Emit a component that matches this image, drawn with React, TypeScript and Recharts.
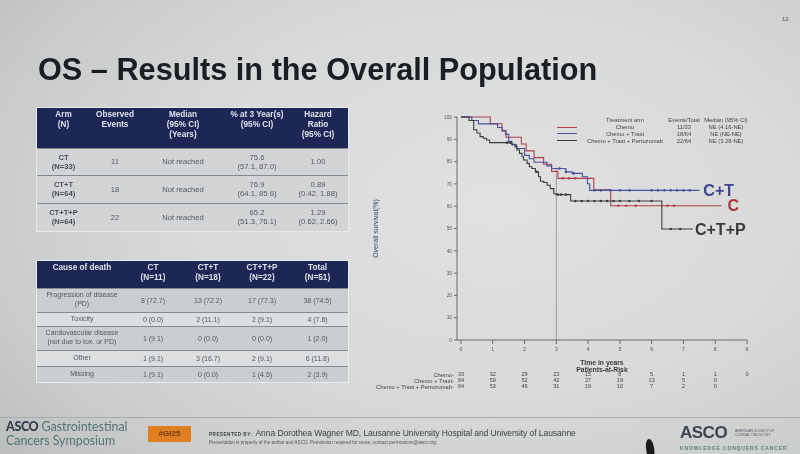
import React from "react"
import {
  ComposedChart,
  Line,
  Scatter,
  XAxis,
  YAxis,
  ReferenceLine,
  ReferenceDot
} from "recharts"

// axes
const years = [0, 1, 2, 3, 4, 5, 6, 7, 8, 9]
const survTicks = [0, 10, 20, 30, 40, 50, 60, 70, 80, 90, 100]

// Kaplan-Meier steps (time in years, survival in %)
const chemoTime = [0, 0.92, 1.29, 1.42, 1.9, 2.05, 2.3, 2.6, 2.85, 3.05, 4.18, 4.71, 8.2]
const chemoSurv = [100, 97, 93.9, 90.9, 87.9, 84.8, 81.8, 78.8, 75.6, 72.5, 67.4, 60.2, 60.2]

const trastTime = [0, 0.34, 0.55, 1.15, 1.3, 1.4, 1.5, 1.6, 1.75, 2.0, 2.15, 2.3, 2.7, 2.85, 3.3, 3.5, 3.82, 3.98, 4.05, 7.5]
const trastSurv = [100, 98.4, 96.9, 95.3, 93.8, 92.2, 89.1, 87.5, 85.9, 82.8, 81.3, 79.7, 78.1, 76.9, 75.4, 74.7, 73.2, 70.1, 67.1, 67.1]

const pertuTime = [0, 0.25, 0.4, 0.5, 0.6, 0.7, 0.8, 0.9, 1.6, 1.7, 1.76, 1.84, 1.92, 1.97, 2.08, 2.15, 2.23, 2.34, 2.44, 2.5, 2.6, 2.71, 2.81, 2.92, 2.99, 3.45, 6.32, 7.3]
const pertuSurv = [100, 98.4, 94.3, 92.8, 91.2, 90.5, 89.7, 88.5, 87.8, 86.7, 85.2, 83.7, 82.2, 80.7, 79.2, 77.7, 76.9, 75.4, 73.2, 71.2, 70.6, 69.4, 67.9, 65.6, 65.2, 62.3, 49.8, 49.8]

// censored observations
const chemoCensT = [3.2, 3.4, 3.6, 4.95, 5.2, 5.5, 6.5, 6.7]
const chemoCensS = [72.5, 72.5, 72.5, 60.2, 60.2, 60.2, 60.2, 60.2]
const trastCensT = [3.1, 3.3, 3.55, 4.2, 4.4, 4.7, 5.0, 5.3, 6.0, 6.2, 6.4, 6.6, 6.8, 7.0, 7.2]
const trastCensS = [76.9, 75.4, 74.7, 67.1, 67.1, 67.1, 67.1, 67.1, 67.1, 67.1, 67.1, 67.1, 67.1, 67.1, 67.1]
const pertuCensT = [1.45, 1.55, 2.38, 3.05, 3.15, 3.3, 3.6, 3.8, 4.0, 4.2, 4.4, 4.6, 4.8, 5.0, 5.3, 5.6, 6.0, 6.6, 6.9]
const pertuCensS = [88.5, 88.5, 75.4, 65.2, 65.2, 65.2, 62.3, 62.3, 62.3, 62.3, 62.3, 62.3, 62.3, 62.3, 62.3, 62.3, 62.3, 49.8, 49.8]

// patients at risk
const riskChemo = [33, 32, 29, 23, 15, 8, 5, 1, 1, 0]
const riskTrast = [64, 59, 52, 42, 27, 19, 13, 5, 0]
const riskPertu = [64, 53, 46, 31, 19, 10, 7, 2, 0]

const refYear = 3
const refSurv = 77

// legend rows
const armNames = ["Chemo", "Chemo + Trast", "Chemo + Trast + Pertuzumab"]
const armEvents = ["11/33", "18/64", "22/64"]
const armMedians = ["NE (4.16-NE)", "NE (NE-NE)", "NE (3.28-NE)"]

// table 1
const t1Head = [["Arm", "(N)"], ["Observed", "Events"], ["Median", "(95% CI)", "(Years)"], ["% at 3 Year(s)", "(95% CI)"], ["Hazard", "Ratio", "(95% CI)"]]
const t1Arms = [["CT", "(N=33)"], ["CT+T", "(N=64)"], ["CT+T+P", "(N=64)"]]
const t1Events = ["11", "18", "22"]
const t1Median = ["Not reached", "Not reached", "Not reached"]
const t1Pct = [["75.6", "(57.1, 87.0)"], ["76.9", "(64.1, 85.6)"], ["65.2", "(51.3, 76.1)"]]
const t1Hr = [["1.00"], ["0.89", "(0.42, 1.88)"], ["1.29", "(0.62, 2.66)"]]

// table 2
const t2Head = [["Cause of death"], ["CT", "(N=11)"], ["CT+T", "(N=18)"], ["CT+T+P", "(N=22)"], ["Total", "(N=51)"]]
const t2Causes = [["Progression of disease", "(PD)"], ["Toxicity"], ["Cardiovascular disease", "(not due to tox. or PD)"], ["Other"], ["Missing"]]
const t2Ct = ["8 (72.7)", "0 (0.0)", "1 (9.1)", "1 (9.1)", "1 (9.1)"]
const t2Ctt = ["13 (72.2)", "2 (11.1)", "0 (0.0)", "3 (16.7)", "0 (0.0)"]
const t2Ctp = ["17 (77.3)", "2 (9.1)", "0 (0.0)", "2 (9.1)", "1 (4.5)"]
const t2Total = ["38 (74.5)", "4 (7.8)", "1 (2.0)", "6 (11.8)", "2 (3.9)"]

const RED = "#b0404b"
const BLUE = "#4a4f9e"
const DARK = "#3d3d3f"
const NAVY = "#1c2756"
const FONT = "'Liberation Sans', Arial, sans-serif"

const toPoints = (t: number[], s: number[]) => t.map((x, i) => ({ t: x, s: s[i] }))

const censorShape = (color: string) => (p: any) => (
  <circle cx={p.cx} cy={p.cy} r={1.3} fill={color} />
)

const lines = (arr: string[]) =>
  arr.map((l, i) => (
    <div key={i}>{l}</div>
  ))

const timeTitles = (props: any) => {
  const vb = props.viewBox
  const cx = vb.x + vb.width / 2
  return (
    <g>
      <text x={cx} y={vb.y + 24.5} textAnchor="middle" fontSize={6.8} fontWeight="bold" fill="#3a3a3a">
        Time in years
      </text>
      <text x={cx} y={vb.y + 31.5} textAnchor="middle" fontSize={6.8} fontWeight="bold" fill="#3a3a3a">
        Patients-at-Risk
      </text>
    </g>
  )
}

function KMChart() {
  const riskAxis = (id: string, risk: number[], name: string) => (
    <XAxis
      xAxisId={id}
      type="number"
      dataKey="t"
      domain={[0, 9]}
      allowDataOverflow
      ticks={years}
      padding={{ left: 4, right: 0 }}
      axisLine={false}
      tickLine={false}
      tickSize={0}
      tickMargin={0}
      height={6}
      interval={0}
      tick={{ fontSize: 5.6, fill: "#444" }}
      tickFormatter={(v: number) => (risk[v] === undefined ? "" : String(risk[v]))}
      label={{ value: name + "-", position: "left", offset: 3, fontSize: 5.8, fill: "#444" }}
    />
  )

  return (
    <ComposedChart width={420} height={287} margin={{ top: 12, right: 38, bottom: 2, left: 0 }}>
      <XAxis
        xAxisId="main"
        type="number"
        dataKey="t"
        domain={[0, 9]}
        allowDataOverflow
        ticks={years}
        padding={{ left: 4, right: 0 }}
        height={32}
        tickSize={4}
        tickMargin={3}
        interval={0}
        stroke="#6a6a6a"
        tick={{ fontSize: 5.2, fill: "#555" }}
        label={timeTitles}
      />
      {riskAxis("r1", riskChemo, armNames[0])}
      {riskAxis("r2", riskTrast, armNames[1])}
      {riskAxis("r3", riskPertu, armNames[2])}
      <YAxis
        type="number"
        domain={[0, 100]}
        ticks={survTicks}
        width={92}
        tickSize={3}
        tickMargin={2}
        interval={0}
        stroke="#6a6a6a"
        tick={{ fontSize: 4.8, fill: "#555" }}
        label={{
          value: "Overall survival(%)",
          angle: -90,
          position: "insideLeft",
          offset: 11,
          style: { textAnchor: "middle" },
          fontSize: 7,
          fill: "#34486a"
        }}
      />
      <ReferenceLine
        xAxisId="main"
        segment={[{ x: refYear, y: 0 }, { x: refYear, y: refSurv }]}
        stroke="#8a8a8a"
        strokeWidth={0.8}
      />
      <Line xAxisId="main" data={toPoints(chemoTime, chemoSurv)} dataKey="s" type="stepAfter" stroke={RED} strokeWidth={1.1} dot={false} activeDot={false} isAnimationActive={false} />
      <Line xAxisId="main" data={toPoints(trastTime, trastSurv)} dataKey="s" type="stepAfter" stroke={BLUE} strokeWidth={1.1} dot={false} activeDot={false} isAnimationActive={false} />
      <Line xAxisId="main" data={toPoints(pertuTime, pertuSurv)} dataKey="s" type="stepAfter" stroke={DARK} strokeWidth={1.1} dot={false} activeDot={false} isAnimationActive={false} />
      <Scatter xAxisId="main" data={toPoints(chemoCensT, chemoCensS)} dataKey="s" shape={censorShape(RED)} isAnimationActive={false} />
      <Scatter xAxisId="main" data={toPoints(trastCensT, trastCensS)} dataKey="s" shape={censorShape(BLUE)} isAnimationActive={false} />
      <Scatter xAxisId="main" data={toPoints(pertuCensT, pertuCensS)} dataKey="s" shape={censorShape(DARK)} isAnimationActive={false} />
      <ReferenceDot xAxisId="main" x={trastTime[trastTime.length - 1]} y={trastSurv[trastSurv.length - 1]} r={0} fill="none" stroke="none"
        label={{ value: "C+T", position: "right", offset: 4, fontSize: 16, fontWeight: "bold", fill: "#3f4694" }} />
      <ReferenceDot xAxisId="main" x={chemoTime[chemoTime.length - 1]} y={chemoSurv[chemoSurv.length - 1]} r={0} fill="none" stroke="none"
        label={{ value: "C", position: "right", offset: 6, fontSize: 16, fontWeight: "bold", fill: "#b0353d" }} />
      <ReferenceDot xAxisId="main" x={pertuTime[pertuTime.length - 1]} y={pertuSurv[pertuSurv.length - 1]} r={0} fill="none" stroke="none"
        label={{ value: "C+T+P", position: "right", offset: 2, fontSize: 16, fontWeight: "bold", fill: "#39393b" }} />
    </ComposedChart>
  )
}

function ChartLegend() {
  const colors = [RED, BLUE, DARK]
  const cell = (x: number, y: number, text: string) => (
    <div style={{ position: "absolute", left: x, top: y, transform: "translateX(-50%)", whiteSpace: "nowrap" }}>{text}</div>
  )
  return (
    <div style={{ position: "absolute", left: 0, top: 0, fontSize: 5.8, color: "#444", lineHeight: "6px" }}>
      {cell(625, 117, "Treatment arm")}
      {cell(684, 117, "Events/Total")}
      {cell(726, 117, "Median (95% CI)")}
      {armNames.map((n, i) => (
        <React.Fragment key={n}>
          <div style={{ position: "absolute", left: 557, top: 124 + i * 6.8 + 2.5, width: 20, height: 0.8, background: colors[i] }} />
          {cell(625, 124 + i * 6.8, n)}
          {cell(684, 124 + i * 6.8, armEvents[i])}
          {cell(726, 124 + i * 6.8, armMedians[i])}
        </React.Fragment>
      ))}
    </div>
  )
}

const thStyle: React.CSSProperties = {
  background: NAVY,
  color: "#dfe3ec",
  fontWeight: "bold",
  fontSize: 8.2,
  lineHeight: "10.2px",
  textAlign: "center",
  padding: 0,
  whiteSpace: "nowrap",
  verticalAlign: "top",
  paddingTop: 2
}

const tdStyle = (bg: string): React.CSSProperties => ({
  background: bg,
  color: "#54585e",
  fontSize: 7.6,
  lineHeight: "9px",
  textAlign: "center",
  padding: 0,
  whiteSpace: "nowrap",
  borderTop: "1px solid #858a90"
})

function SurvivalTable() {
  const widths = [53, 50, 86, 62, 60]
  const rowH = [27, 28, 28]
  return (
    <table style={{ position: "absolute", left: 37, top: 108, width: 311, borderCollapse: "collapse", tableLayout: "fixed", fontFamily: FONT, outline: "1.5px solid #e9ebeb" }}>
      <colgroup>
        {widths.map((w, i) => <col key={i} style={{ width: w }} />)}
      </colgroup>
      <thead>
        <tr style={{ height: 40 }}>
          {t1Head.map((h, i) => <th key={i} style={thStyle}>{lines(h)}</th>)}
        </tr>
      </thead>
      <tbody>
        {t1Arms.map((arm, r) => (
          <tr key={r} style={{ height: rowH[r] }}>
            <td style={{ ...tdStyle("#d2d4d6"), fontWeight: "bold", color: "#4a4e55" }}>{lines(arm)}</td>
            <td style={tdStyle("#d2d4d6")}>{t1Events[r]}</td>
            <td style={tdStyle("#d2d4d6")}>{t1Median[r]}</td>
            <td style={tdStyle("#d2d4d6")}>{lines(t1Pct[r])}</td>
            <td style={tdStyle("#d2d4d6")}>{lines(t1Hr[r])}</td>
          </tr>
        ))}
      </tbody>
    </table>
  )
}

function DeathTable() {
  const widths = [90, 52, 58, 50, 61]
  const rowH = [24, 14, 24, 16, 16]
  const bgs = ["#cbced0", "#dcdedf", "#cbced0", "#dcdedf", "#cbced0"]
  return (
    <table style={{ position: "absolute", left: 37, top: 261, width: 311, borderCollapse: "collapse", tableLayout: "fixed", fontFamily: FONT, outline: "1.5px solid #e9ebeb" }}>
      <colgroup>
        {widths.map((w, i) => <col key={i} style={{ width: w }} />)}
      </colgroup>
      <thead>
        <tr style={{ height: 27 }}>
          {t2Head.map((h, i) => <th key={i} style={thStyle}>{lines(h)}</th>)}
        </tr>
      </thead>
      <tbody>
        {t2Causes.map((c, r) => (
          <tr key={r} style={{ height: rowH[r] }}>
            <td style={{ ...tdStyle(bgs[r]), fontSize: 7, lineHeight: "8.6px" }}>{lines(c)}</td>
            <td style={{ ...tdStyle(bgs[r]), fontSize: 7 }}>{t2Ct[r]}</td>
            <td style={{ ...tdStyle(bgs[r]), fontSize: 7 }}>{t2Ctt[r]}</td>
            <td style={{ ...tdStyle(bgs[r]), fontSize: 7 }}>{t2Ctp[r]}</td>
            <td style={{ ...tdStyle(bgs[r]), fontSize: 7 }}>{t2Total[r]}</td>
          </tr>
        ))}
      </tbody>
    </table>
  )
}

function Footer() {
  return (
    <>
      <div style={{ position: "absolute", left: 0, top: 417, width: 800, height: 1, background: "#a9acac" }} />
      <div style={{ position: "absolute", left: 6, top: 420, fontFamily: "Lato, sans-serif", fontSize: 12.4, lineHeight: "13.5px", color: "#557276", whiteSpace: "nowrap" }}>
        <div><span style={{ fontWeight: 900, color: "#2e3b46", letterSpacing: -0.3 }}>ASCO</span> Gastrointestinal</div>
        <div>Cancers Symposium</div>
      </div>
      <div style={{ position: "absolute", left: 148, top: 426, width: 43, height: 16, background: "#df7f22", color: "#6b3a0c", fontFamily: FONT, fontWeight: "bold", fontSize: 8, lineHeight: "16px", textAlign: "center" }}>#GI25</div>
      <div style={{ position: "absolute", left: 209, top: 428, fontFamily: FONT, fontSize: 8.6, lineHeight: "10px", color: "#3a3f45", whiteSpace: "nowrap" }}>
        <span style={{ fontSize: 4.6, fontWeight: "bold", letterSpacing: 0.5, marginRight: 3 }}>PRESENTED BY:</span>
        <span style={{ letterSpacing: -0.1 }}>Anna Dorothea Wagner MD, Lausanne University Hospital and University of Lausanne</span>
      </div>
      <div style={{ position: "absolute", left: 209, top: 440, fontFamily: FONT, fontSize: 4.6, lineHeight: "5px", color: "#555", whiteSpace: "nowrap" }}>
        Presentation is property of the author and ASCO. Permission required for reuse; contact permissions@asco.org.
      </div>
      <div style={{ position: "absolute", left: 680, top: 424, fontFamily: FONT, fontWeight: "bold", fontSize: 17, lineHeight: "17px", color: "#3a4650", letterSpacing: -0.5 }}>ASCO</div>
      <div style={{ position: "absolute", left: 735, top: 429, fontFamily: FONT, fontSize: 3.4, lineHeight: "4px", color: "#556", whiteSpace: "nowrap" }}>
        <div>AMERICAN SOCIETY OF</div>
        <div>CLINICAL ONCOLOGY</div>
      </div>
      <div style={{ position: "absolute", left: 680, top: 445, fontFamily: FONT, fontWeight: "bold", fontSize: 5, lineHeight: "6px", letterSpacing: 0.85, color: "#5b7b80", whiteSpace: "nowrap" }}>
        KNOWLEDGE CONQUERS CANCER
      </div>
      <div style={{ position: "absolute", left: 646, top: 439, width: 8, height: 18, borderRadius: "50% 50% 35% 35%", background: "#1b1b1b", transform: "rotate(-8deg)" }} />
    </>
  )
}

export default function App() {
  return (
    <div
      style={{
        position: "fixed",
        left: 0,
        top: 0,
        width: 800,
        height: 454,
        overflow: "hidden",
        fontFamily: FONT,
        background:
          "radial-gradient(ellipse 85% 95% at 62% 45%, #e0e1e0 0%, #d8dad9 45%, #c9cccb 75%, #b5b8b7 100%)"
      }}
    >
      <div style={{ position: "absolute", left: 782, top: 16, fontSize: 6, color: "#555" }}>12</div>
      <div style={{ position: "absolute", left: 38, top: 50, fontSize: 30.7, fontWeight: "bold", color: "#1b1e23", whiteSpace: "nowrap", lineHeight: "40px" }}>
        OS – Results in the Overall Population
      </div>

      <SurvivalTable />
      <DeathTable />

      <div style={{ position: "absolute", left: 365, top: 105 }}>
        <KMChart />
      </div>
      <ChartLegend />

      <Footer />
    </div>
  )
}
